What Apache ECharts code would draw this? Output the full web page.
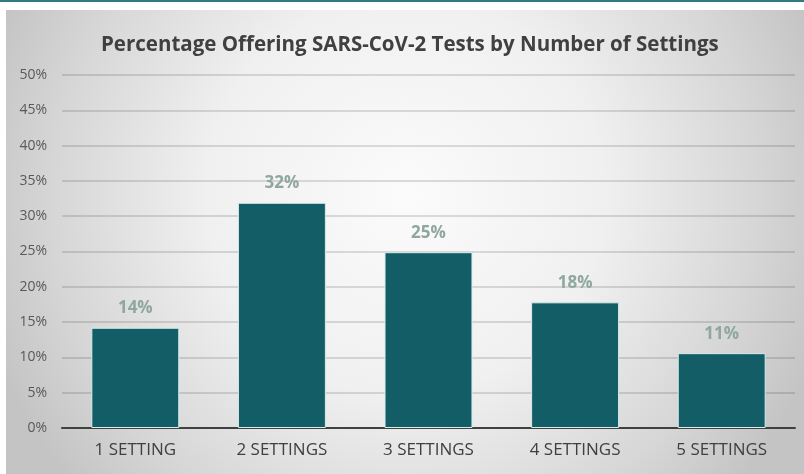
<!DOCTYPE html>
<html lang="en">
<head>
    <meta charset="UTF-8">
    <title>SARS-CoV-2 Tests</title>
    <script src="https://cdn.jsdelivr.net/npm/echarts@6/dist/echarts.min.js"></script>
    <style>
      *{margin:0;padding:0}
      html,body{width:100%;height:100%;background:#fff}
      #main{width:804px;height:474px}
    </style>
</head>
<body>
<div id="main"></div>
<script>
    var categories = ['1 SETTING', '2 SETTINGS', '3 SETTINGS', '4 SETTINGS', '5 SETTINGS'];
    var percents = [14.2, 31.9, 24.9, 17.8, 10.6];
    var yTicks = [0, 5, 10, 15, 20, 25, 30, 35, 40, 45, 50];

    var chart = echarts.init(document.getElementById('main'));
    var font = '"Open Sans", "Liberation Sans", sans-serif';

    var option = {
        backgroundColor: '#fff',
        animation: false,
        graphic: [
            {
                type: 'rect',
                z: -10,
                shape: {x: 0, y: 0, width: 804, height: 2},
                style: {fill: '#2f7b80'}
            },
            {
                type: 'rect',
                z: -10,
                shape: {x: 6, y: 10, width: 798, height: 464},
                style: {
                    fill: new echarts.graphic.RadialGradient(0.5, 0.4, 0.95, [
                        {offset: 0, color: '#fbfbfb'},
                        {offset: 0.45, color: '#f0f0f0'},
                        {offset: 0.8, color: '#d6d6d6'},
                        {offset: 1, color: '#c4c4c4'}
                    ])
                }
            }
        ],
        title: {
            text: 'Percentage Offering SARS-CoV-2 Tests by Number of Settings',
            left: 96,
            top: 30,
            textStyle: {
                fontFamily: font,
                fontSize: 20.5,
                fontWeight: 'bold',
                color: '#404040'
            }
        },
        grid: {left: 62, right: 9, top: 75, bottom: 46},
        xAxis: {
            type: 'category',
            data: categories,
            axisTick: {show: false},
            axisLine: {lineStyle: {color: '#404040', width: 2}},
            axisLabel: {
                fontFamily: font,
                fontSize: 17,
                color: '#404040',
                margin: 14
            }
        },
        yAxis: {
            type: 'value',
            min: yTicks[0],
            max: yTicks[yTicks.length - 1],
            interval: 5,
            axisLine: {show: false},
            axisTick: {show: false},
            axisLabel: {
                fontFamily: font,
                fontSize: 14,
                color: '#595959',
                margin: 15,
                formatter: '{value}%'
            },
            splitLine: {lineStyle: {color: 'rgba(0,0,0,0.17)', width: 1.5}}
        },
        series: [{
            type: 'bar',
            data: percents,
            barWidth: '60%',
            itemStyle: {
                color: '#135e66',
                borderColor: '#d8ecec',
                borderWidth: 1
            },
            label: {
                show: true,
                position: 'top',
                distance: 11,
                fontFamily: font,
                fontSize: 17,
                fontWeight: 'bold',
                color: '#8fa79f',
                formatter: function (p) {
                    return Math.round(p.value) + '%';
                }
            }
        }]
    };
    chart.setOption(option);
</script>
</body>
</html>
